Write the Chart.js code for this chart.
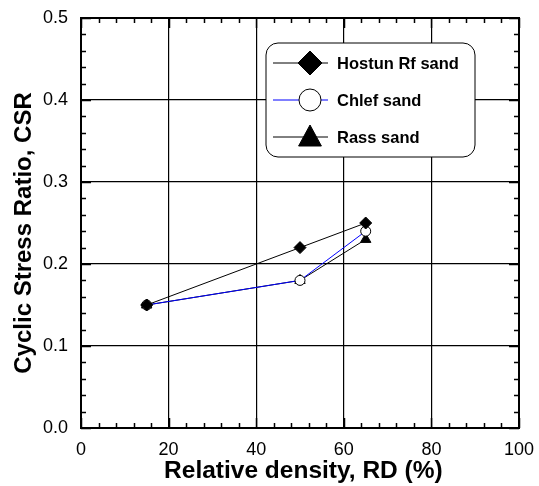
<!DOCTYPE html>
<html>
<head>
<meta charset="utf-8">
<script src="https://cdn.jsdelivr.net/npm/chart.js@4.4.1/dist/chart.umd.min.js"></script>
<style>
  html, body { margin: 0; padding: 0; background: #fff; }
  #wrap { width: 539px; height: 486px; }
</style>
</head>
<body>
<div id="wrap"><canvas id="chart" width="539" height="486"></canvas></div>
<script>
// data
const seriesNames = ["Hostun Rf sand", "Chlef sand", "Rass sand"];
const densityRD = [15, 50, 65];
const hostunCSR = [0.15, 0.22, 0.25];
const chlefCSR = [0.15, 0.18, 0.24];
const rassCSR = [0.15, 0.18, 0.23];

const xTickValues = [0, 20, 40, 60, 80, 100];
const yTickValues = [0, 0.1, 0.2, 0.3, 0.4, 0.5];
const yTickLabels = ["0.0", "0.1", "0.2", "0.3", "0.4", "0.5"];
const xMinorStep = 4;
const yMinorStep = 0.02;

const FONT = "'Liberation Sans', Arial, sans-serif";

function toPoints(ys) {
  return densityRD.map((x, i) => ({ x: x, y: ys[i] }));
}

// draw one marker shape (used in the legend box)
function drawMarker(ctx, style, x, y, r, fill) {
  ctx.beginPath();
  if (style === "rectRot") {
    ctx.moveTo(x, y - r);
    ctx.lineTo(x + r, y);
    ctx.lineTo(x, y + r);
    ctx.lineTo(x - r, y);
    ctx.closePath();
  } else if (style === "triangle") {
    ctx.moveTo(x, y - r);
    ctx.lineTo(x + r * 0.95, y + r * 0.75);
    ctx.lineTo(x - r * 0.95, y + r * 0.75);
    ctx.closePath();
  } else {
    ctx.arc(x, y, r, 0, Math.PI * 2);
  }
  ctx.fillStyle = fill;
  ctx.fill();
  ctx.lineWidth = 1;
  ctx.strokeStyle = "#000";
  ctx.stroke();
}

// frame + inward ticks on all four sides
const frameTicks = {
  id: "frameTicks",
  beforeDatasetsDraw(chart) {
    const ctx = chart.ctx;
    const a = chart.chartArea;
    const sx = chart.scales.x, sy = chart.scales.y;
    ctx.save();
    ctx.strokeStyle = "#000";
    ctx.lineWidth = 1.5;
    ctx.beginPath();
    for (let v = sx.min; v <= sx.max + 1e-9; v += xMinorStep) {
      const px = Math.round(sx.getPixelForValue(v)) + 0.5;
      const len = (Math.round(v) % 20 === 0) ? 10 : 5;
      ctx.moveTo(px, a.bottom); ctx.lineTo(px, a.bottom - len);
      ctx.moveTo(px, a.top); ctx.lineTo(px, a.top + len);
    }
    for (let v = sy.min; v <= sy.max + 1e-9; v += yMinorStep) {
      const py = Math.round(sy.getPixelForValue(v)) + 0.5;
      const len = (Math.round(v * 100) % 10 === 0) ? 10 : 5;
      ctx.moveTo(a.left, py); ctx.lineTo(a.left + len, py);
      ctx.moveTo(a.right, py); ctx.lineTo(a.right - len, py);
    }
    ctx.stroke();
    ctx.lineWidth = 2;
    ctx.strokeRect(a.left, a.top, a.right - a.left, a.bottom - a.top);
    ctx.restore();
  }
};

// legend box inside the plot
const boxLegend = {
  id: "boxLegend",
  afterDatasetsDraw(chart) {
    const ctx = chart.ctx;
    const x0 = 266, y0 = 43, w = 209, h = 114, r = 12;
    ctx.save();
    ctx.beginPath();
    ctx.roundRect(x0, y0, w, h, r);
    ctx.fillStyle = "#fff";
    ctx.fill();
    ctx.lineWidth = 1;
    ctx.strokeStyle = "#000";
    ctx.stroke();
    chart.data.datasets.forEach((ds, i) => {
      const y = 63 + i * 37;
      ctx.beginPath();
      ctx.moveTo(273, y);
      ctx.lineTo(328, y);
      ctx.strokeStyle = ds.borderColor;
      ctx.lineWidth = 1;
      ctx.stroke();
      const rad = ds.pointStyle === "circle" ? 11 : 12;
      drawMarker(ctx, ds.pointStyle, 310, y, rad, ds.pointBackgroundColor);
      ctx.fillStyle = "#000";
      ctx.font = "bold 16.5px " + FONT;
      ctx.textBaseline = "middle";
      ctx.textAlign = "left";
      ctx.fillText(ds.label, 337, y + 1);
    });
    ctx.restore();
  }
};

new Chart(document.getElementById("chart"), {
  type: "line",
  data: {
    datasets: [
      {
        label: seriesNames[0],
        data: toPoints(hostunCSR),
        borderColor: "#000",
        borderWidth: 1,
        pointStyle: "rectRot",
        pointRadius: 6,
        pointBackgroundColor: "#000",
        pointBorderColor: "#000",
        pointBorderWidth: 1
      },
      {
        label: seriesNames[1],
        data: toPoints(chlefCSR),
        borderColor: "#0000ff",
        borderWidth: 1,
        pointStyle: "circle",
        pointRadius: 5,
        pointBackgroundColor: "#fff",
        pointBorderColor: "#000",
        pointBorderWidth: 1
      },
      {
        label: seriesNames[2],
        data: toPoints(rassCSR),
        borderColor: "#000",
        borderWidth: 1,
        pointStyle: "triangle",
        pointRadius: 6,
        pointBackgroundColor: "#000",
        pointBorderColor: "#000",
        pointBorderWidth: 1
      }
    ]
  },
  options: {
    responsive: false,
    animation: false,
    devicePixelRatio: 1,
    layout: { autoPadding: false, padding: { top: 18, right: 20, left: 0, bottom: 0 } },
    plugins: {
      legend: { display: false },
      tooltip: { enabled: false }
    },
    scales: {
      x: {
        type: "linear",
        min: 0,
        max: 100,
        afterBuildTicks: s => { s.ticks = xTickValues.map(v => ({ value: v })); },
        afterFit: s => { s.height = 58; s.paddingLeft = 0; s.paddingRight = 0; },
        grid: { color: "#000", lineWidth: 1.2, drawTicks: false },
        border: { display: false },
        ticks: { color: "#000", padding: 11, maxRotation: 0, font: { family: FONT, size: 18 } },
        title: {
          display: true,
          text: " Relative density, RD (%)",
          color: "#000",
          padding: { top: 0, bottom: 0 },
          font: { family: FONT, size: 24.5, weight: "bold" }
        }
      },
      y: {
        type: "linear",
        min: 0,
        max: 0.5,
        afterBuildTicks: s => { s.ticks = yTickValues.map(v => ({ value: v })); },
        afterFit: s => { s.width = 81; s.paddingTop = 0; s.paddingBottom = 0; },
        grid: { color: "#000", lineWidth: 1.2, drawTicks: false },
        border: { display: false },
        ticks: {
          color: "#000",
          padding: 13,
          font: { family: FONT, size: 18 },
          callback: (v, i) => yTickLabels[i]
        },
        title: {
          display: true,
          text: "Cyclic Stress Ratio, CSR   ",
          color: "#000",
          padding: { top: 10, bottom: 0 },
          font: { family: FONT, size: 24, weight: "bold" }
        }
      }
    }
  },
  plugins: [frameTicks, boxLegend]
});
</script>
</body>
</html>
